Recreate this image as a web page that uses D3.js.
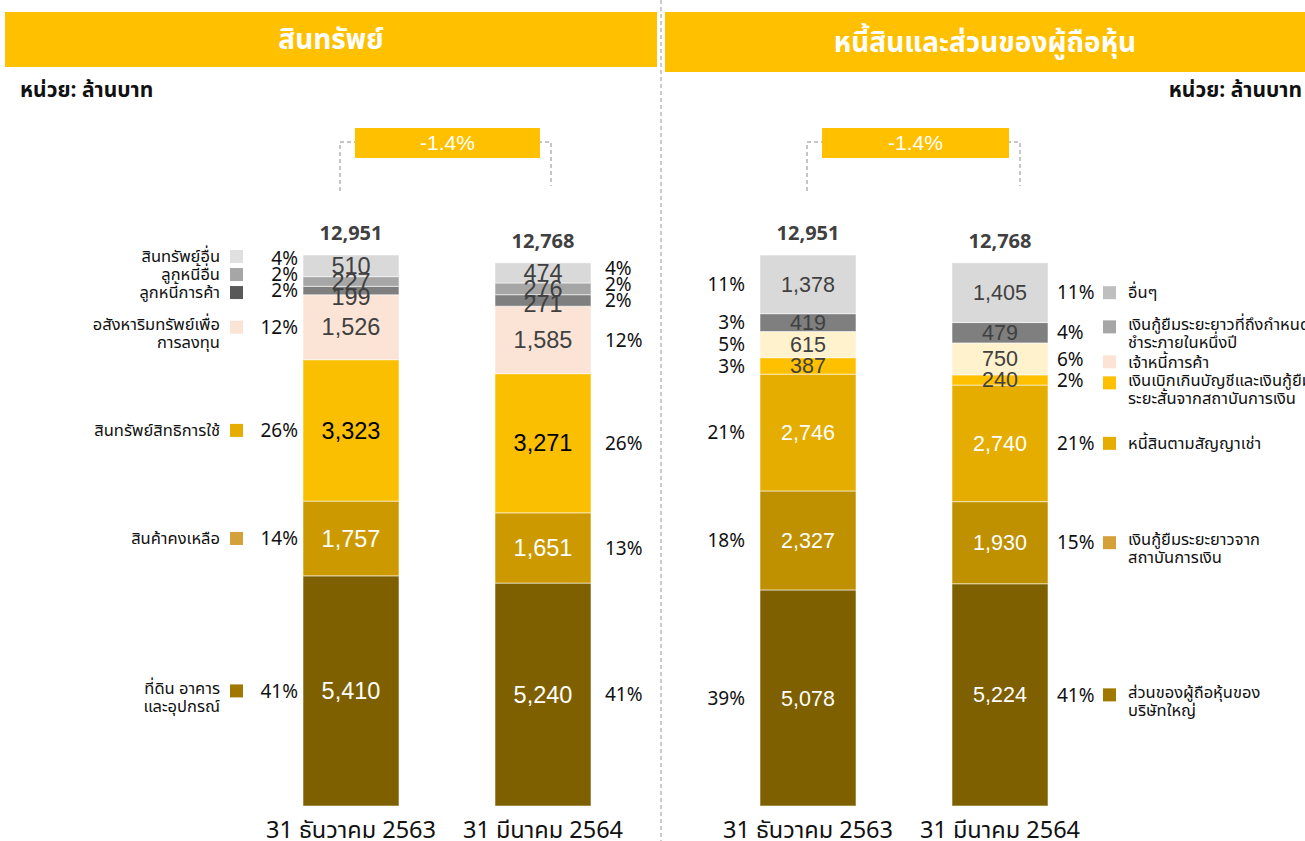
<!DOCTYPE html>
<html lang="th">
<head>
<meta charset="UTF-8">
<title>สินทรัพย์ / หนี้สินและส่วนของผู้ถือหุ้น</title>
<script src="https://cdn.jsdelivr.net/npm/d3@7"></script>
<style>
  body { margin: 0; background: #fff; }
  text { font-family: Tahoma, "Noto Sans Thai", "Noto Sans", "DejaVu Sans", sans-serif; }
  .num { font-family: "Liberation Sans", Arial, sans-serif; }
</style>
</head>
<body>
<svg id="chart" width="1305" height="841"></svg>
<script>
// ---- data (segments listed bottom -> top) ----
const periods = ['31 ธันวาคม 2563', '31 มีนาคม 2564'];
const changeLabel = '-1.4%';

const assetNames = [['ที่ดิน อาคาร', 'และอุปกรณ์'], ['สินค้าคงเหลือ'], ['สินทรัพย์สิทธิการใช้'],
  ['อสังหาริมทรัพย์เพื่อ', 'การลงทุน'], ['ลูกหนี้การค้า'], ['ลูกหนี้อื่น'], ['สินทรัพย์อื่น']];
const assetsDec = [5410, 1757, 3323, 1526, 199, 227, 510];
const assetsMar = [5240, 1651, 3271, 1585, 271, 276, 474];
const assetPctDec = ['41%', '14%', '26%', '12%', '2%', '2%', '4%'];
const assetPctMar = ['41%', '13%', '26%', '12%', '2%', '2%', '4%'];
const assetTotals = [12951, 12768];

const liabNames = [['ส่วนของผู้ถือหุ้นของ', 'บริษัทใหญ่'], ['เงินกู้ยืมระยะยาวจาก', 'สถาบันการเงิน'],
  ['หนี้สินตามสัญญาเช่า'], ['เงินเบิกเกินบัญชีและเงินกู้ยืม', 'ระยะสั้นจากสถาบันการเงิน'],
  ['เจ้าหนี้การค้า'], ['เงินกู้ยืมระยะยาวที่ถึงกำหนด', 'ชำระภายในหนึ่งปี'], ['อื่นๆ']];
const liabDec = [5078, 2327, 2746, 387, 615, 419, 1378];
const liabMar = [5224, 1930, 2740, 240, 750, 479, 1405];
const liabPctDec = ['39%', '18%', '21%', '3%', '5%', '3%', '11%'];
const liabPctMar = ['41%', '15%', '21%', '2%', '6%', '4%', '11%'];
const liabTotals = [12951, 12768];

// ---- styles ----
const assetBarColors = ['#7F6000', '#CC9900', '#F9BF00', '#FBE4D5', '#7F7F7F', '#A6A6A6', '#D9D9D9'];
const assetKeyColors = ['#A07800', '#D4A03A', '#E6AC00', '#FBE4D5', '#595959', '#A6A6A6', '#E0E0E0'];
const assetValColors = ['#fff', '#fff', '#000', '#404040', '#404040', '#404040', '#404040'];
const liabBarColors = ['#7F6000', '#BF9000', '#E5AD00', '#FFC000', '#FFF2CC', '#7F7F7F', '#D9D9D9'];
const liabKeyColors = ['#A07800', '#D4A03A', '#E6AC00', '#FFC000', '#FBE4D5', '#A6A6A6', '#BFBFBF'];
const liabValColors = ['#fff', '#fff', '#fff', '#404040', '#404040', '#404040', '#404040'];

let svg = d3.select('svg#chart');
let fmt = d3.format(',');
let y = d3.scaleLinear().domain([0, 12951]).range([806, 255]);

// stack labels so they do not sit on top of each other
function spreadUp(ys, gap) {      // bottom -> top, push upward
  let out = [];
  ys.forEach(function (v, i) { out.push(i === 0 ? v : Math.min(v, out[i - 1] - gap)); });
  return out;
}
function spreadDown(ys, gap) {    // top -> bottom, push downward
  let out = ys.slice();
  for (let i = ys.length - 2; i >= 0; i--) out[i] = Math.max(ys[i], out[i + 1] + gap);
  return out;
}
// legend rows: push overlapping neighbours apart evenly (two-line rows need more room)
function relax(ys, names) {
  let out = ys.slice();
  for (let it = 0; it < 60; it++) {
    for (let i = 0; i < out.length - 1; i++) {
      let req = (names[i].length > 1 ? 12 : 9) + (names[i + 1].length > 1 ? 26 : 9);
      let d = out[i] - out[i + 1];
      if (d < req) { out[i] += (req - d) / 2; out[i + 1] -= (req - d) / 2; }
    }
  }
  return out;
}

// separator
svg.append('line').attr('x1', 661).attr('x2', 661).attr('y1', 0).attr('y2', 841)
  .attr('stroke', '#999').attr('stroke-dasharray', '4,3');

function drawPanel(o) {
  let g = svg.append('g');

  // header
  g.append('rect').attr('x', o.head[0]).attr('y', 12).attr('width', o.head[1]).attr('height', o.head[2])
    .attr('fill', '#FFC000');
  g.append('text').attr('x', o.head[0] + o.head[1] / 2).attr('y', 12 + o.head[2] / 2).attr('dy', '0.35em')
    .attr('text-anchor', 'middle').attr('fill', '#fff').attr('font-size', 28).attr('font-weight', 'bold')
    .text(o.title);
  g.append('text').attr('x', o.unitX).attr('y', 90).attr('dy', '0.35em').attr('text-anchor', o.unitAnchor)
    .attr('font-size', 21).attr('font-weight', 'bold').attr('fill', '#111').text('หน่วย: ล้านบาท');

  let x = d3.scaleBand().domain(periods).range(o.xRange).paddingInner(0.5);
  let keys = o.names.map(function (d, i) { return 's' + i; });
  let table = periods.map(function (p, j) {
    let row = { period: p };
    o.values[j].forEach(function (v, i) { row['s' + i] = v; });
    return row;
  });
  let stacks = d3.stack().keys(keys)(table);

  // bars
  let layers = g.selectAll('g.layer').data(stacks).enter().append('g')
    .attr('fill', function (d, i) { return o.barColors[i]; });
  layers.selectAll('rect').data(function (d) { return d; }).enter().append('rect')
    .attr('x', function (d) { return x(d.data.period); })
    .attr('width', x.bandwidth())
    .attr('y', function (d) { return y(d[1]); })
    .attr('height', function (d) { return y(d[0]) - y(d[1]); })
    .attr('stroke', 'rgba(255,255,255,0.55)').attr('stroke-width', 1);

  periods.forEach(function (p, j) {
    let cx = x(p) + x.bandwidth() / 2;
    let mids = stacks.map(function (s) { return (y(s[j][0]) + y(s[j][1])) / 2; });

    // values inside bars
    let vy = spreadDown(mids, 15);
    stacks.forEach(function (s, i) {
      g.append('text').attr('class', 'num').attr('x', cx).attr('y', vy[i]).attr('dy', '0.35em')
        .attr('text-anchor', 'middle').attr('font-size', o.valSize).attr('fill', o.valColors[i])
        .text(fmt(o.values[j][i]));
    });

    // percentages
    let py = spreadUp(mids, 16);
    o.pct[j].forEach(function (t, i) {
      g.append('text').attr('x', j === 0 ? x(p) - o.pctGap[0] : x(p) + x.bandwidth() + o.pctGap[1])
        .attr('y', py[i]).attr('dy', '0.35em').attr('text-anchor', j === 0 ? 'end' : 'start')
        .attr('font-size', 19).attr('fill', '#111').text(t);
    });

    // legend next to the matching bar
    if (j === o.keyBar) {
      let ky = relax(py, o.names);
      o.names.forEach(function (lines, i) {
        g.append('rect').attr('x', o.keyX).attr('y', ky[i] - 6.5).attr('width', 13).attr('height', 13)
          .attr('fill', o.keyColors[i]);
        let t = g.append('text').attr('x', o.keyTextX).attr('text-anchor', o.keyAnchor)
          .attr('font-size', 16.5).attr('fill', '#111');
        lines.forEach(function (line, k) {
          let off = lines.length > 1 ? [-3, 15][k] : 0;
          t.append('tspan').attr('x', o.keyTextX).attr('y', ky[i] + off).attr('dy', '0.35em').text(line);
        });
      });
    }

    // totals
    g.append('text').attr('x', cx).attr('y', y(o.totals[j]) - 15)
      .attr('text-anchor', 'middle').attr('font-size', 20).attr('font-weight', 'bold')
      .attr('fill', '#404040').text(fmt(o.totals[j]));

    // period label
    g.append('text').attr('x', cx).attr('y', 830).attr('dy', '0.35em').attr('text-anchor', 'middle')
      .attr('font-size', 23.5).attr('fill', '#111').text(p);
  });

  // change bracket
  let lx = x(periods[0]) + x.bandwidth() / 2 + o.bracket[0];
  let rx = x(periods[1]) + x.bandwidth() / 2 + o.bracket[1];
  g.append('path').attr('d', 'M' + lx + ',191V142H' + (lx + 20) + 'M' + (rx - 20) + ',142H' + rx + 'V186')
    .attr('fill', 'none').attr('stroke', '#8c8c8c').attr('stroke-dasharray', '4,3');
  g.append('rect').attr('x', lx + 15).attr('y', 128).attr('width', rx - lx - 26).attr('height', 30)
    .attr('fill', '#FFC000');
  g.append('text').attr('class', 'num').attr('x', (lx + rx) / 2 + 2).attr('y', 143).attr('dy', '0.35em')
    .attr('text-anchor', 'middle').attr('fill', '#fff').attr('font-size', 21).text(changeLabel);
}

drawPanel({
  title: 'สินทรัพย์', head: [5, 652, 55], unitX: 20, unitAnchor: 'start',
  xRange: [303, 591], names: assetNames, values: [assetsDec, assetsMar], pct: [assetPctDec, assetPctMar],
  totals: assetTotals, barColors: assetBarColors, keyColors: assetKeyColors, valColors: assetValColors,
  valSize: 23.5, pctGap: [5, 14], keyBar: 0, keyX: 230, keyTextX: 220, keyAnchor: 'end', bracket: [-11, 8]
});
drawPanel({
  title: 'หนี้สินและส่วนของผู้ถือหุ้น', head: [665, 640, 60], unitX: 1302, unitAnchor: 'end',
  xRange: [760, 1048], names: liabNames, values: [liabDec, liabMar], pct: [liabPctDec, liabPctMar],
  totals: liabTotals, barColors: liabBarColors, keyColors: liabKeyColors, valColors: liabValColors,
  valSize: 21.5, pctGap: [15, 9], keyBar: 1, keyX: 1103, keyTextX: 1128, keyAnchor: 'start', bracket: [-1, 20]
});
</script>
</body>
</html>
